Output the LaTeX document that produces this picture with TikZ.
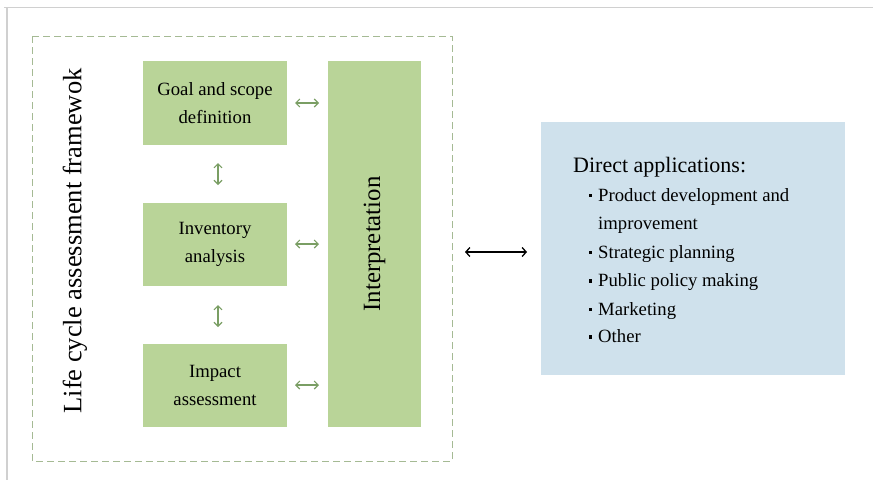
\documentclass[tikz,border=0pt]{standalone}
\usepackage{fontspec}
\setmainfont{Liberation Serif}
\usetikzlibrary{arrows.meta}
\definecolor{boxgreen}{RGB}{185,212,152}
\definecolor{boxblue}{RGB}{207,225,236}
\definecolor{dashgreen}{RGB}{165,186,148}
\definecolor{arrgreen}{RGB}{122,158,100}
\definecolor{framegray}{RGB}{208,208,208}
\tikzset{
  stagebox/.style={fill=boxgreen, draw=none, minimum width=144pt, minimum height=84pt, inner sep=0pt,
    align=center, font=\fontsize{18.7}{28}\selectfont},
  garrow/.style={draw=arrgreen, line width=1.1pt, {Straight Barb[length=4pt,width=8pt]}-{Straight Barb[length=4pt,width=8pt]}},
  karrow/.style={draw=black, line width=1.3pt, {Straight Barb[length=4pt,width=9pt]}-{Straight Barb[length=4pt,width=9pt]}},
  itemtext/.style={anchor=base west, inner sep=0pt, font=\fontsize{18.7}{22}\selectfont},
  bulletmark/.style={fill=black, minimum size=3.4pt, inner sep=0pt, draw=none}
}
\begin{document}
\begin{tikzpicture}[x=1pt,y=-1pt]
\useasboundingbox (0,0) rectangle (874,480);
% outer frame lines
\draw[framegray, line width=1.2pt] (4,7.5) -- (873,7.5);
\draw[framegray, line width=1.2pt] (7,7.5) -- (7,480);
% dashed framework box
\draw[dashgreen, line width=1pt, dash pattern=on 7pt off 4pt] (32,36) rectangle (452,461);
% title of framework
\node[rotate=90, inner sep=0pt, font=\fontsize{26.5}{30}\selectfont] (lca) at (75,241) {Life cycle assessment framewok};
% stage boxes
\node[stagebox] (goal) at (215,103) {Goal and scope\\definition};
\node[stagebox, minimum height=83pt] (inv) at (215,244.5) {Inventory\\analysis};
\node[stagebox, minimum height=83pt] (imp) at (215,385.5) {Impact\\assessment};
\node[fill=boxgreen, minimum width=93pt, minimum height=366pt, inner sep=0pt] (interp) at (374.5,244) {};
\node[rotate=90, inner sep=0pt, font=\fontsize{24.8}{28}\selectfont] (interptext) at (interp.center) {Interpretation};
% coordinates for small arrows
\coordinate (g1) at (295,103); \coordinate (g2) at (319,103);
\coordinate (i1) at (295,244); \coordinate (i2) at (319,244);
\coordinate (m1) at (295,385); \coordinate (m2) at (319,385);
\coordinate (v1a) at (218,163); \coordinate (v1b) at (218,185);
\coordinate (v2a) at (218,305); \coordinate (v2b) at (218,327);
\draw[garrow] (g1) -- (g2);
\draw[garrow] (i1) -- (i2);
\draw[garrow] (m1) -- (m2);
\draw[garrow] (v1a) -- (v1b);
\draw[garrow] (v2a) -- (v2b);
% applications box
\node[fill=boxblue, minimum width=304pt, minimum height=253pt, inner sep=0pt] (apps) at (693,248.5) {};
\coordinate (k1) at (465,252); \coordinate (k2) at (527,252);
\draw[karrow] (k1) -- (k2);
\node[anchor=base west, inner sep=0pt, font=\fontsize{22}{26}\selectfont] (appt) at (573,172) {Direct applications:};
\node[itemtext] (it1) at (598,201) {Product development and};
\node[itemtext] (it1b) at (598,229.5) {improvement};
\node[itemtext] (it2) at (598,258) {Strategic planning};
\node[itemtext] (it3) at (598,286.5) {Public policy making};
\node[itemtext] (it4) at (598,315) {Marketing};
\node[itemtext] (it5) at (598,342.5) {Other};
\node[bulletmark] (b1) at (590.5,195.5) {};
\node[bulletmark] (b2) at (590.5,252.5) {};
\node[bulletmark] (b3) at (590.5,281) {};
\node[bulletmark] (b4) at (590.5,309.5) {};
\node[bulletmark] (b5) at (590.5,337) {};
\end{tikzpicture}
\end{document}
